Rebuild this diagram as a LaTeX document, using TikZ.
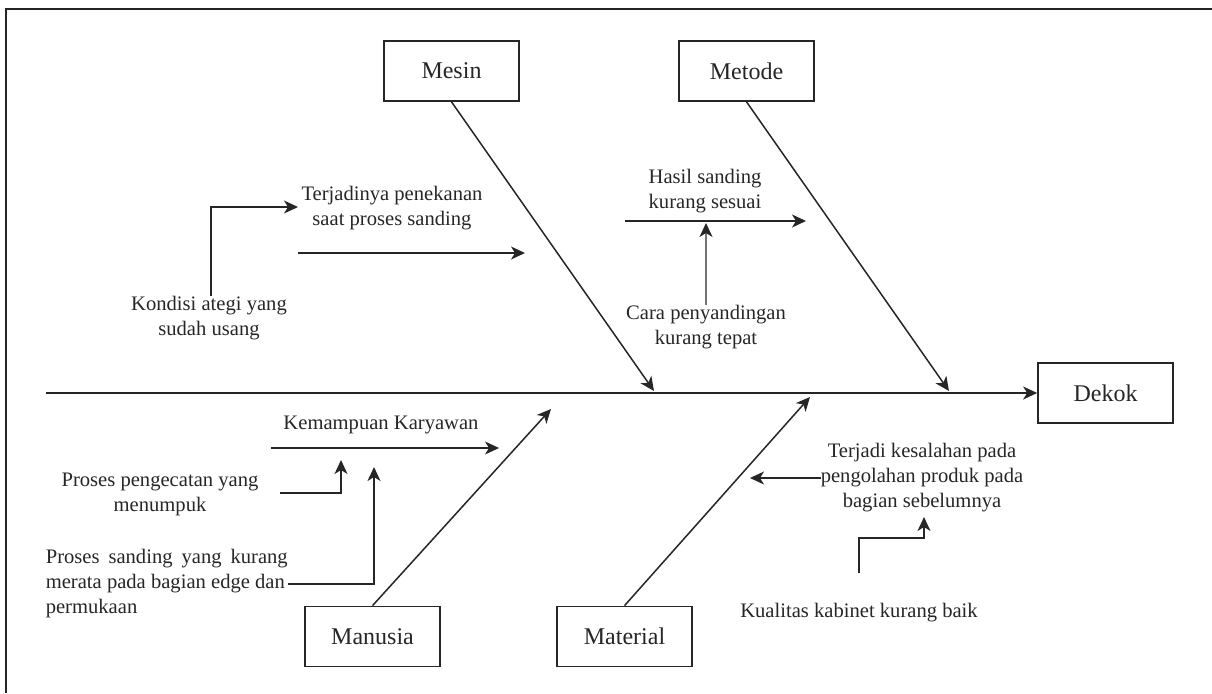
\documentclass[tikz,border=0pt]{standalone}
\usepackage{fontspec}
\setmainfont{Liberation Serif}
\usetikzlibrary{arrows.meta}
\begin{document}
\begin{tikzpicture}[x=1pt,y=-1pt,
  every node/.style={inner sep=0pt, text=black!85},
  notefont/.style={font=\fontsize{20.6}{25}\selectfont},
  note/.style={notefont, align=center},
  cat/.style={draw=black!85, line width=1.7pt, minimum width=135pt, minimum height=60pt,
    font=\fontsize{24}{28}\selectfont},
  bone/.style={draw=black!85, line width=1.5pt,
    -{Stealth[length=14pt,width=13pt,inset=4pt]}},
  sub/.style={bone},
  greysub/.style={draw=black!55, line width=1.5pt,
    -{Stealth[length=14pt,width=13pt,inset=4pt,color=black!85]}}
]
\useasboundingbox (0,0) rectangle (1212,693);
% frame (top and left edges)
\draw[line width=2pt, black!85] (6,693) -- (6,9) -- (1212,9);

% category boxes and effect
\node[cat] (mesin)    at (451.5,71)    {Mesin};
\node[cat] (metode)   at (746.5,71)    {Metode};
\node[cat] (dekok)    at (1105.5,393)  {Dekok};
\node[cat] (manusia)  at (372.5,636.5) {Manusia};
\node[cat] (material) at (624.5,636.5) {Material};

% spine
\coordinate (tail) at (46,393);
\draw[bone] (tail) -- (dekok.west);

% main bones
\coordinate (mesinTip)    at (654,391);
\coordinate (metodeTip)   at (949,391);
\coordinate (manusiaTip)  at (551,409);
\coordinate (materialTip) at (810,397);
\draw[bone] (mesin.south)    -- (mesinTip);
\draw[bone] (metode.south)   -- (metodeTip);
\draw[bone] (manusia.north)  -- (manusiaTip);
\draw[bone] (material.north) -- (materialTip);

% Mesin causes
\node[note] (penekanan) at (392,208) {Terjadinya penekanan\\saat proses sanding};
\coordinate (penA) at (298,253);
\coordinate (penB) at (525,253);
\draw[sub] (penA) -- (penB);
\node[note] (kondisi) at (209,318) {Kondisi ategi yang\\sudah usang};
\coordinate (kondisiTip) at (298,207);
\draw[sub] (kondisi.north -| 211,0) |- (kondisiTip);

% Metode causes
\node[note] (hasil) at (705,191) {Hasil sanding\\kurang sesuai};
\coordinate (hasA) at (625,221);
\coordinate (hasB) at (806,221);
\draw[sub] (hasA) -- (hasB);
\node[note] (cara) at (706,327) {Cara penyandingan\\kurang tepat};
\coordinate (caraTip) at (706,223);
\draw[greysub] (cara.north) -- (caraTip);

% Manusia causes
\node[note] (kemampuan) at (381,425) {Kemampuan Karyawan};
\coordinate (kemA) at (271,448);
\coordinate (kemB) at (499,448);
\draw[sub] (kemA) -- (kemB);
\node[note] (pengecatan) at (160,494) {Proses pengecatan yang\\menumpuk};
\coordinate (pengA) at (280,493);
\coordinate (pengTip) at (341,460);
\draw[sub] (pengA) -| (pengTip);
\node[notefont, align=left, anchor=east] (sanding) at (288,584)
  {\makebox[242pt][s]{Proses sanding yang kurang}\\merata pada bagian edge dan\\permukaan};
\coordinate (sandTip) at (374,467);
\draw[sub] (sanding.east) -| (sandTip);

% Material causes
\node[note] (kesalahan) at (922,478) {Terjadi kesalahan pada\\pengolahan produk pada\\bagian sebelumnya};
\coordinate (kesTip) at (750,478);
\draw[sub] (kesalahan.west) -- (kesTip);
\node[note] (kualitas) at (859,613) {Kualitas kabinet kurang baik};
\coordinate (kualA) at (859,573);
\coordinate (kualMid) at (924,538);
\coordinate (kualTip) at (924,517);
\draw[sub] (kualA) |- (kualMid) -- (kualTip);
\end{tikzpicture}
\end{document}
